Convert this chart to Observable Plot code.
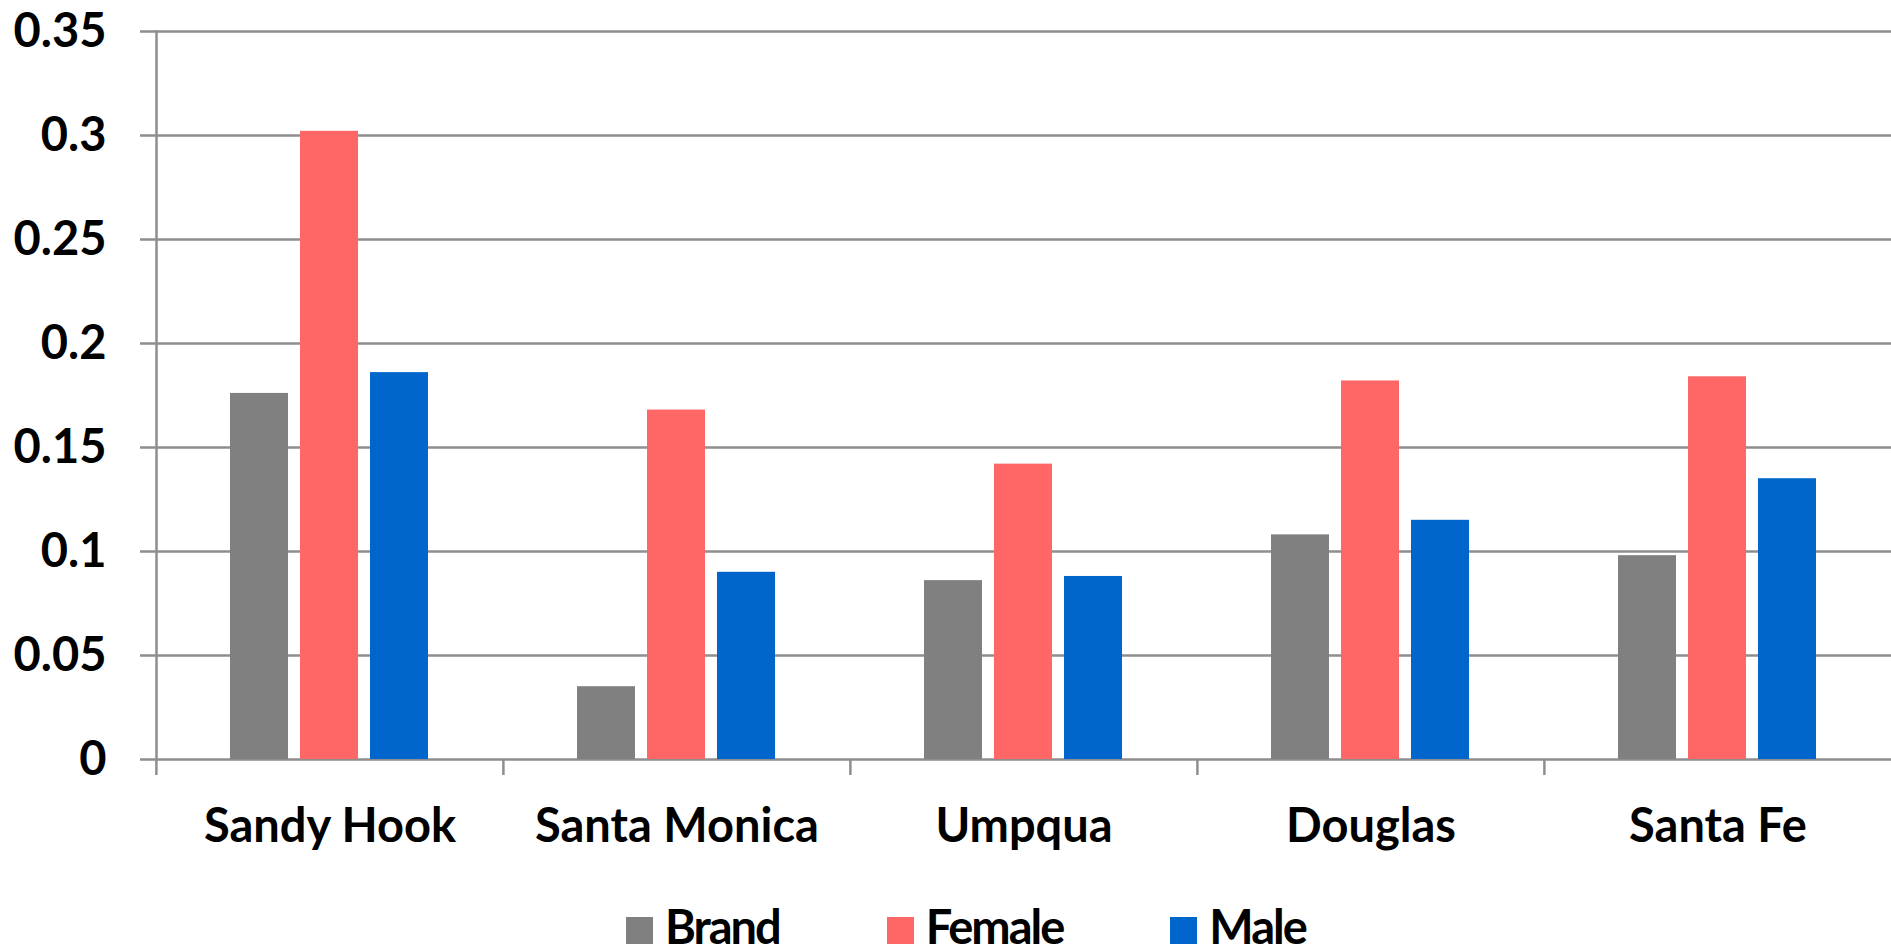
<!DOCTYPE html>
<html><head><meta charset="utf-8">
<script src="https://cdn.jsdelivr.net/npm/d3@7"></script>
<script src="https://cdn.jsdelivr.net/npm/@observablehq/plot@0.6"></script>
<style>
html,body{margin:0;padding:0;background:#fff;overflow:hidden;}
#legend{font-family:Lato, sans-serif;font-weight:bold;font-size:47px;line-height:47px;letter-spacing:-2px;padding-left:626px;margin-top:23px;white-space:nowrap;color:#000;}
#legend .item{display:inline-block;margin-right:107px;}
#legend .sw{display:inline-block;width:27px;height:27px;margin-right:12px;vertical-align:baseline;}
</style></head><body>
<div id="chart"></div>
<div id="legend"></div>
<script>
const categories = ["Sandy Hook", "Santa Monica", "Umpqua", "Douglas", "Santa Fe"];
const seriesNames = ["Brand", "Female", "Male"];
const brandValues = [0.176, 0.035, 0.086, 0.108, 0.098];
const femaleValues = [0.302, 0.168, 0.142, 0.182, 0.184];
const maleValues = [0.186, 0.090, 0.088, 0.115, 0.135];
const seriesColors = ["#808080", "#FF6666", "#0066CC"];
const yTicks = [0, 0.05, 0.1, 0.15, 0.2, 0.25, 0.3, 0.35];
const yTickLabels = ["0", "0.05", "0.1", "0.15", "0.2", "0.25", "0.3", "0.35"];

const seriesValues = [brandValues, femaleValues, maleValues];
const table = categories.flatMap((c, i) => seriesNames.map((s, j) => ({category: c, series: s, value: seriesValues[j][i]})));

const W = 1891, H = 880, ML = 155, MR = 0;
const facetW = (W - ML - MR) / categories.length;
const grid = "#8e8e8e";

const chart = Plot.plot({
  width: W, height: H,
  marginLeft: ML, marginRight: MR, marginTop: 31, marginBottom: H - 759,
  style: {fontFamily: "Lato, sans-serif", fontSize: "47px", fontWeight: "bold", color: "#000", background: "#fff", overflow: "visible"},
  fx: {domain: categories, padding: 0, label: null},
  x: {domain: seriesNames, paddingInner: 0.167, paddingOuter: 1.046, axis: null},
  y: {domain: [0, 0.35], label: null},
  color: {domain: seriesNames, range: seriesColors},
  marks: [
    Plot.ruleY(yTicks, {stroke: grid, strokeWidth: 2.5}),
    Plot.barY(table, {fx: "category", x: "series", y: "value", fill: "series"}),
    Plot.frame({anchor: "left", facet: "super", stroke: grid, strokeWidth: 2.5}),
    Plot.axisY(yTicks, {tickSize: 16, tickPadding: 34, stroke: grid, strokeWidth: 2.5, fill: "#000", label: null,
      tickFormat: d => yTickLabels[yTicks.indexOf(d)]}),
    Plot.axisFx({anchor: "bottom", tickSize: 16, stroke: grid, strokeWidth: 2.5, fill: "none", label: null, dx: -facetW / 2}),
    Plot.axisFx({anchor: "bottom", tickSize: 0, tickPadding: 49, fill: "#000", label: null, style: "letter-spacing:-1px"})
  ]
});
document.getElementById("chart").appendChild(chart);

const legend = document.getElementById("legend");
seriesNames.forEach((s, i) => {
  const item = document.createElement("span");
  item.className = "item";
  const sw = document.createElement("span");
  sw.className = "sw";
  sw.style.background = seriesColors[i];
  item.appendChild(sw);
  item.appendChild(document.createTextNode(s));
  legend.appendChild(item);
});
</script>
</body></html>
